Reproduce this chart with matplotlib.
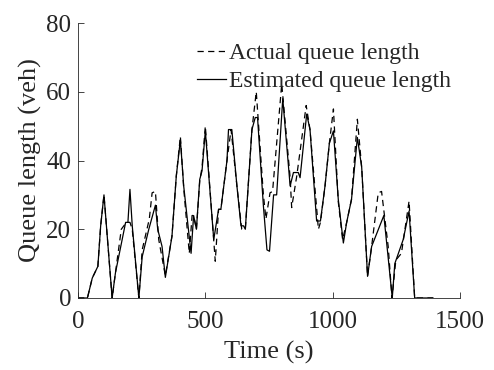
import matplotlib
matplotlib.use("Agg")
import matplotlib.pyplot as plt

est_t = [0, 37, 56, 78, 89, 102, 134, 147, 187, 196, 204, 213, 239, 252, 278, 304, 313, 330, 343, 369, 386, 402, 415, 435, 444, 454, 465, 478, 487, 500, 533, 552, 561, 585, 591, 604, 624, 640, 650, 657, 683, 696, 705, 728, 742, 752, 768, 780, 804, 833, 846, 865, 872, 898, 911, 937, 952, 970, 987, 1003, 1022, 1042, 1055, 1074, 1097, 1114, 1137, 1153, 1201, 1218, 1234, 1244, 1277, 1300, 1322, 1394]
est_v = [0, 0, 5.8, 9.2, 21, 30, 0, 7.3, 22, 22, 31.6, 21, 0, 12, 20, 27, 20, 15, 6, 18, 35.5, 46, 32.6, 19, 13, 24, 20, 34.5, 37, 48.6, 17, 25.8, 25.8, 40, 49, 49, 32.6, 21, 21, 20, 49, 52.5, 52.5, 26.8, 14, 13.6, 30, 30, 58, 32.6, 36.5, 36.5, 35, 53.5, 49, 22.4, 22.4, 32.6, 45, 48.6, 28.7, 16, 22, 28.7, 46.7, 38, 6.3, 15, 24, 11.7, 0, 10, 17, 25.3, 0, 0]

act_t = [0, 37, 56, 78, 89, 102, 134, 150, 170, 190, 204, 213, 239, 252, 280, 291, 304, 317, 343, 369, 386, 402, 415, 437, 448, 454, 465, 478, 487, 500, 539, 552, 561, 585, 601, 624, 643, 650, 657, 683, 700, 728, 738, 754, 764, 800, 833, 839, 859, 896, 911, 944, 952, 970, 987, 1003, 1022, 1039, 1055, 1074, 1097, 1114, 1137, 1153, 1179, 1192, 1218, 1233, 1248, 1270, 1300, 1322, 1394]
act_v = [0, 0, 5.8, 9.2, 21, 30, 0, 9, 20, 22, 22, 20, 0, 14, 23, 30.6, 31, 17, 6.5, 18, 35.5, 47, 32, 13, 24, 24, 20, 34, 38, 50, 10.7, 25.8, 25.8, 40, 49, 32.6, 20, 20, 20, 49, 60, 30, 23, 30.6, 31, 62.3, 35, 26.3, 35.5, 56, 49, 20, 22, 32.6, 45, 55, 28, 17, 22, 28.7, 52, 38, 6.3, 15, 30.6, 31, 15, 0, 11, 13, 28.2, 0, 0]

x_ticks = [0, 500, 1000, 1500]
y_ticks = [0, 20, 40, 60, 80]

plt.rcParams['font.family'] = ['Liberation Serif', 'DejaVu Serif']

fig = plt.figure(figsize=(4.94, 3.70), dpi=100)
ax = fig.add_axes([78/494, 1 - 298/370, (460-78)/494, (298-23)/370])

ax.plot(act_t, act_v, color='black', linestyle=(0, (5, 3.5)), linewidth=0.9, label='Actual queue length')
ax.plot(est_t, est_v, color='black', linestyle='-', linewidth=0.9, label='Estimated queue length')

ax.set_xlim(0, 1500)
ax.set_ylim(0, 80)
ax.set_xticks(x_ticks)
ax.set_yticks(y_ticks)
ax.tick_params(direction='in', length=4, width=0.6, labelsize=18, colors='#262626')
ax.tick_params(axis='x', pad=9)
ax.tick_params(axis='y', pad=5)
ax.spines['top'].set_visible(False)
ax.spines['right'].set_visible(False)
for s in ['left', 'bottom']:
    ax.spines[s].set_linewidth(0.6)
    ax.spines[s].set_color('#262626')

ax.set_xlabel('Time (s)', fontsize=19, color='#262626', labelpad=6)
ax.set_ylabel('Queue length (veh)', fontsize=19, color='#262626', labelpad=3)

leg = ax.legend(loc='upper left', bbox_to_anchor=(0.312, 0.93), frameon=False, fontsize=17,
                handlelength=1.2, handletextpad=0.15, labelspacing=0.28, borderpad=0, borderaxespad=0)
for t in leg.get_texts():
    t.set_color('#262626')

fig.savefig('out.png', dpi=100)
